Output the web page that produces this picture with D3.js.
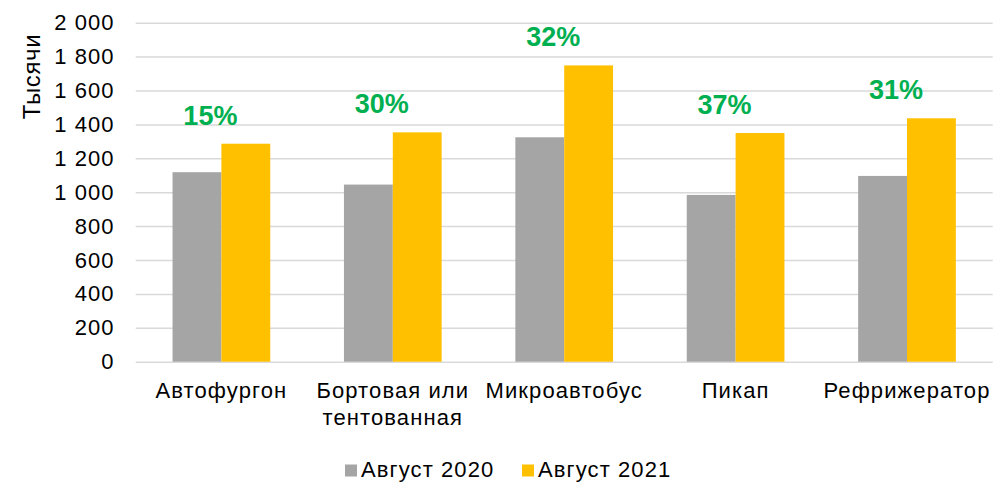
<!DOCTYPE html>
<html>
<head>
<meta charset="utf-8">
<script src="https://cdn.jsdelivr.net/npm/d3@7"></script>
<style>
  html, body { margin: 0; padding: 0; background: #fff; }
  svg { display: block; font-family: "Liberation Sans", Arial, sans-serif; }
</style>
</head>
<body>
<svg id="chart" width="995" height="482"></svg>
<script>
// Vehicle body types and monthly volumes, thousands
const categories = ["Автофургон", "Бортовая или\nтентованная", "Микроавтобус", "Пикап", "Рефрижератор"];
const seriesNames = ["Август 2020", "Август 2021"];
const aug2020 = [1118, 1045, 1324, 984, 1096];
const aug2021 = [1286, 1353, 1748, 1349, 1436];
const growthPct = [15, 30, 32, 37, 31];
const yTicks = [0, 200, 400, 600, 800, 1000, 1200, 1400, 1600, 1800, 2000];
const yTitle = "Тысячи";

const colors = ["#A5A5A5", "#FFC000"];
const green = "#00B050";
const textSize = "22px";
const textSpacing = "1.1px";

const svg = d3.select("#chart");
const margin = { left: 135.7, right: 2.3, top: 22.7, bottom: 120.3 };
const W = 995, H = 482;

const x0 = d3.scaleBand()
  .domain(categories)
  .range([margin.left, W - margin.right])
  .paddingInner(0.43)
  .paddingOuter(0.215);

const x1 = d3.scaleBand()
  .domain(seriesNames)
  .range([0, x0.bandwidth()]);

const y = d3.scaleLinear()
  .domain([0, 2000])
  .range([H - margin.bottom, margin.top]);

const fmt = v => d3.format(",")(v).replace(/,/g, " ");

// Gridlines and tick labels
const yAxis = d3.axisLeft(y)
  .tickValues(yTicks)
  .tickFormat(fmt)
  .tickSize(-(W - margin.right - margin.left))
  .tickPadding(21);

const gy = svg.append("g")
  .attr("transform", `translate(${margin.left},0)`)
  .call(yAxis);
gy.select(".domain").remove();
gy.selectAll(".tick line").attr("stroke", "#D9D9D9").attr("stroke-width", 1.5);
gy.selectAll(".tick text")
  .attr("fill", "#000")
  .style("font-size", textSize)
  .style("letter-spacing", textSpacing)
  .style("font-family", "'Liberation Sans', Arial, sans-serif");

// Axis title
svg.append("text")
  .attr("transform", `translate(40,76.5) rotate(-90)`)
  .attr("text-anchor", "middle")
  .style("font-size", "24px")
  .style("letter-spacing", "0.6px")
  .attr("fill", "#000")
  .text(yTitle);

// Bars
const rows = categories.map((c, i) => ({ cat: c, vals: [aug2020[i], aug2021[i]], g: growthPct[i] }));

const groups = svg.append("g").selectAll("g")
  .data(rows)
  .join("g")
  .attr("transform", d => `translate(${x0(d.cat)},0)`);

groups.selectAll("rect")
  .data(d => d.vals.map((v, j) => ({ name: seriesNames[j], v, j })))
  .join("rect")
  .attr("x", d => x1(d.name))
  .attr("width", x1.bandwidth())
  .attr("y", d => y(d.v))
  .attr("height", d => y(0) - y(d.v))
  .attr("fill", d => colors[d.j]);

// Growth labels above each pair
groups.append("text")
  .attr("x", x0.bandwidth() / 2 - 11)
  .attr("y", d => y(d.vals[1]) - 19)
  .attr("text-anchor", "middle")
  .attr("fill", green)
  .style("font-size", "27px")
  .style("font-weight", "bold")
  .text(d => d.g + "%");

// Category labels (may wrap on two lines)
const catG = svg.append("g");
rows.forEach(d => {
  const cx = x0(d.cat) + x0.bandwidth() / 2;
  const t = catG.append("text")
    .attr("x", cx)
    .attr("y", 398)
    .attr("text-anchor", "middle")
    .attr("fill", "#000")
    .style("font-size", textSize)
    .style("letter-spacing", textSpacing);
  d.cat.split("\n").forEach((line, k) => {
    t.append("tspan")
      .attr("x", cx)
      .attr("dy", k === 0 ? 0 : 27)
      .text(line);
  });
});

// Legend
const legend = svg.append("g").attr("transform", "translate(345,0)");
const legendOffsets = [0, 177];
seriesNames.forEach((name, j) => {
  const g = legend.append("g").attr("transform", `translate(${legendOffsets[j]},0)`);
  g.append("rect")
    .attr("x", 0).attr("y", 464.5)
    .attr("width", 12).attr("height", 12)
    .attr("fill", colors[j]);
  g.append("text")
    .attr("x", 16).attr("y", 477)
    .attr("fill", "#000")
    .style("font-size", textSize)
    .style("letter-spacing", textSpacing)
    .text(name);
});
</script>
</body>
</html>
